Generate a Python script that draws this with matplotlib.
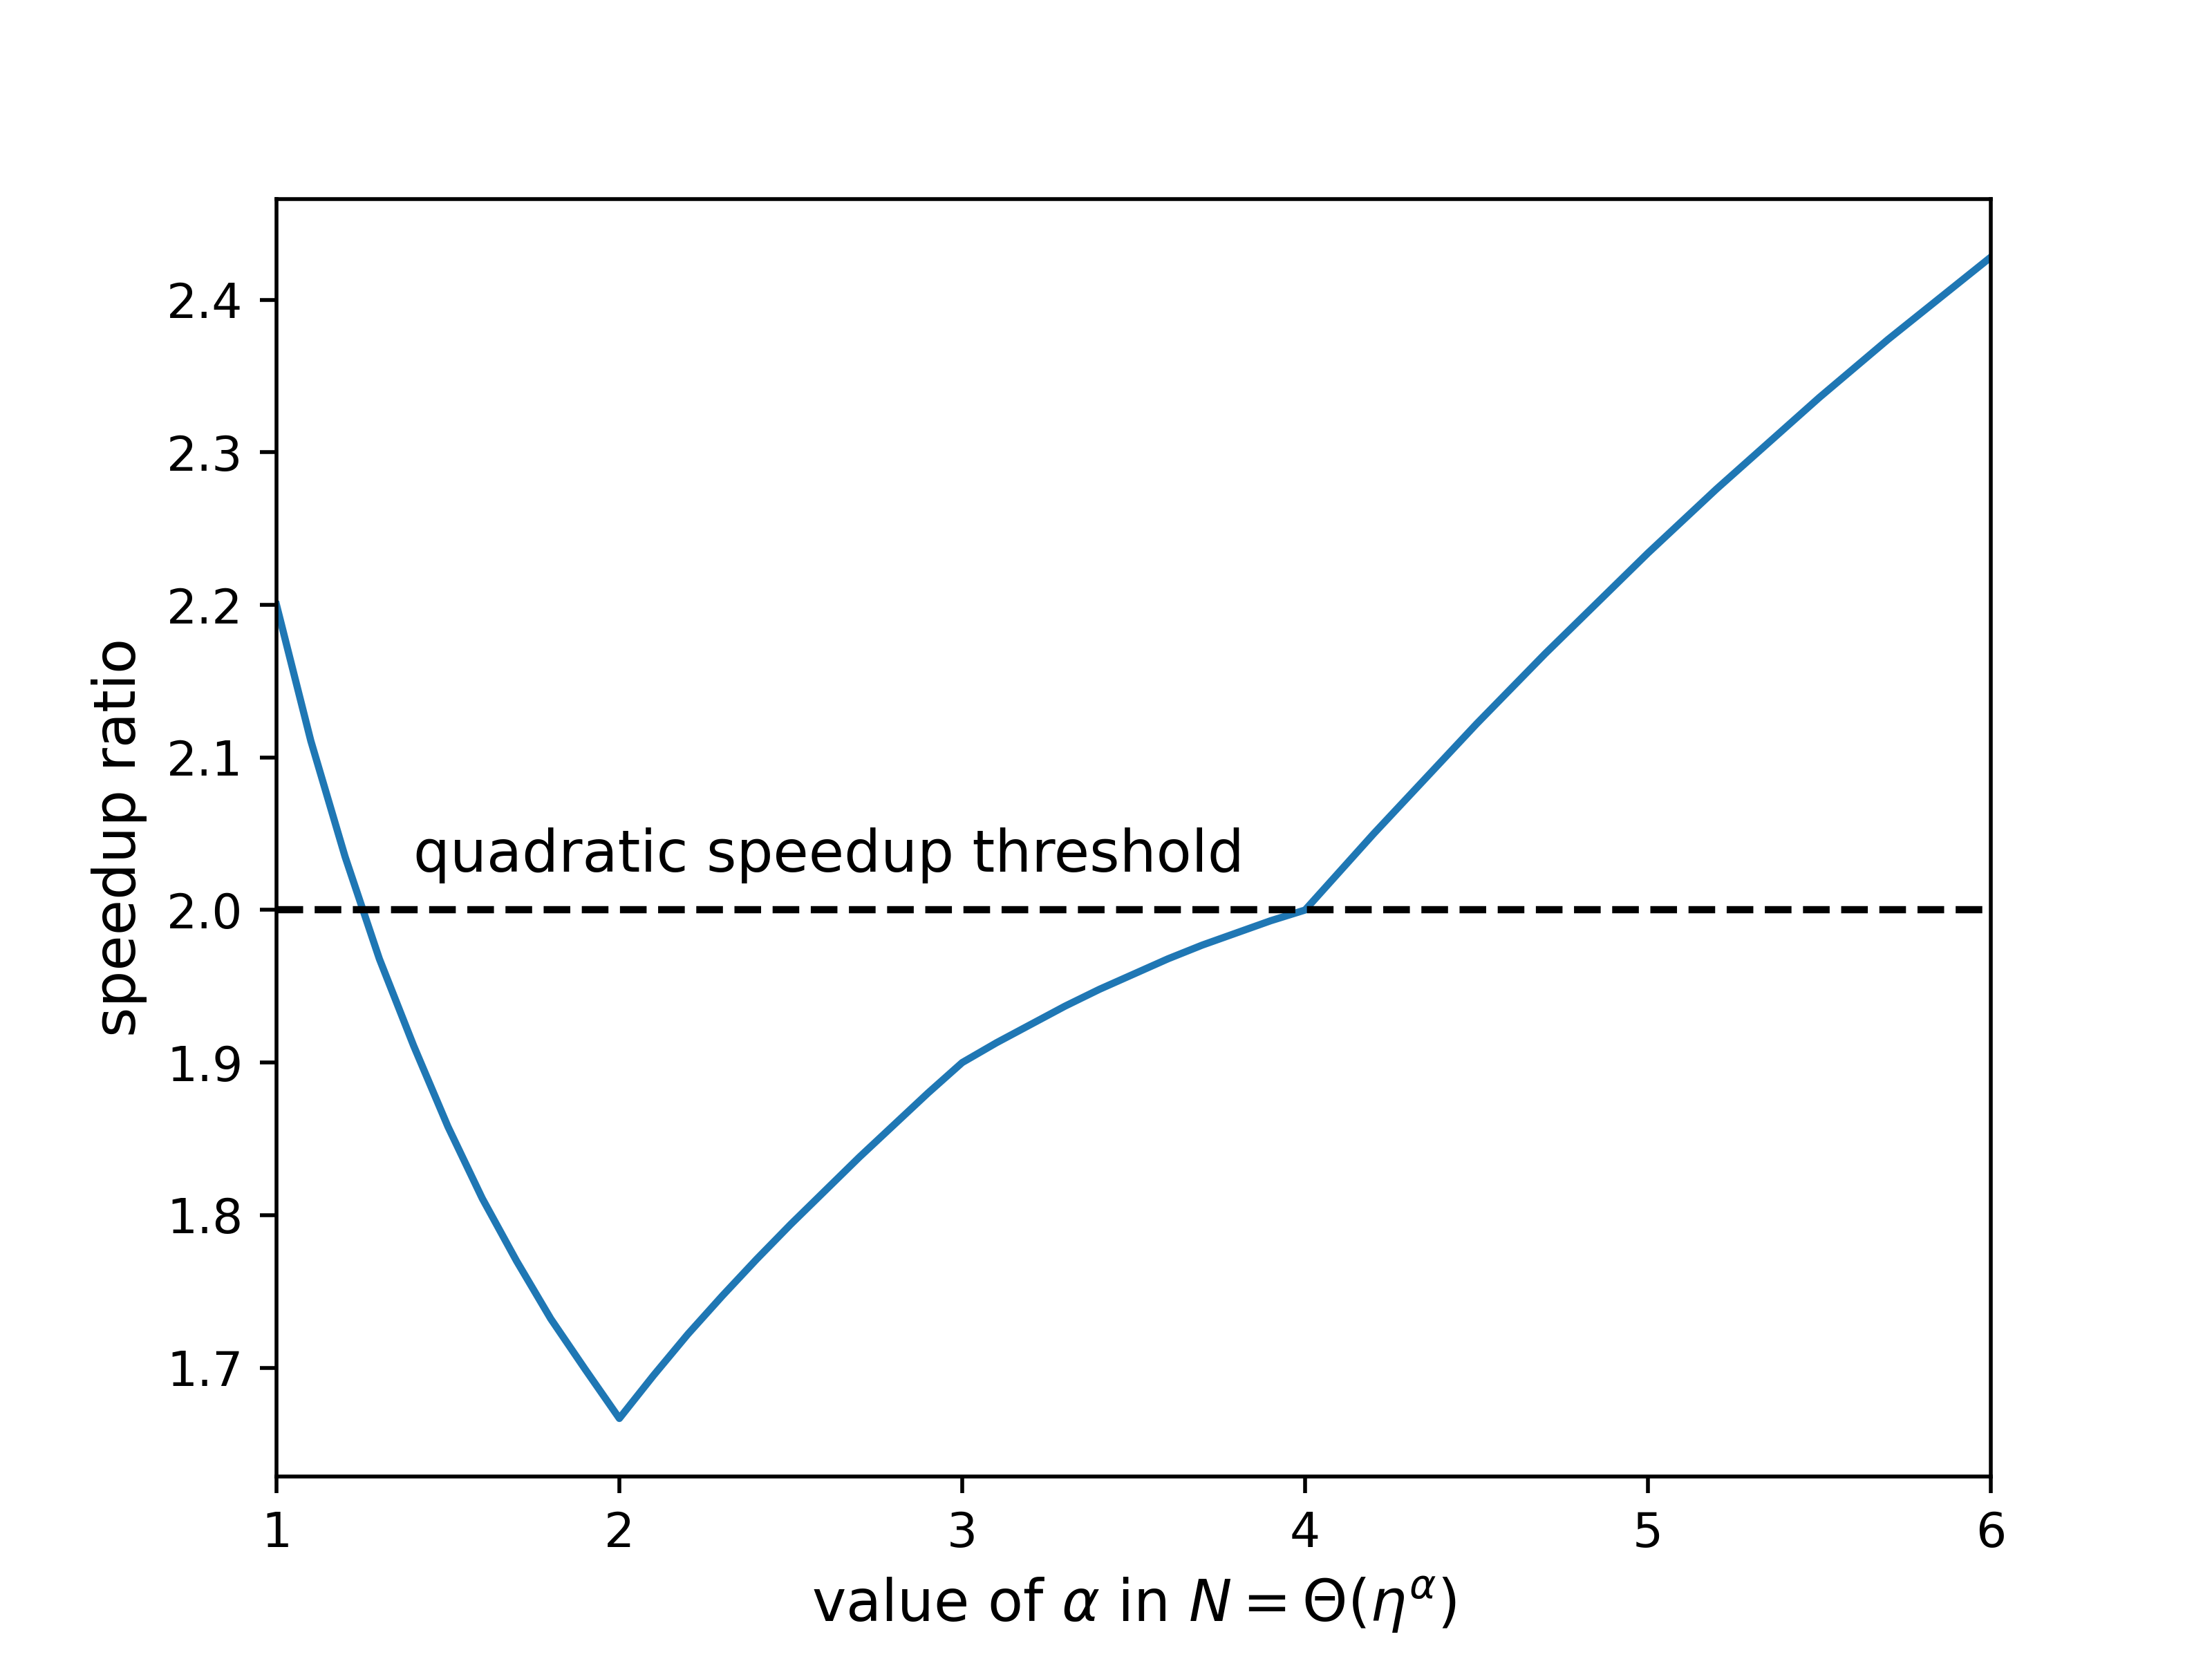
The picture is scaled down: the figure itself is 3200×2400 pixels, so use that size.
import matplotlib
matplotlib.use("Agg")
import matplotlib.pyplot as plt

# valeurs lues sur le graphe, pas de 0.1 en alpha
alpha = [1.0, 1.1, 1.2, 1.3, 1.4, 1.5, 1.6, 1.7, 1.8, 1.9,
         2.0, 2.1, 2.2, 2.3, 2.4, 2.5, 2.6, 2.7, 2.8, 2.9,
         3.0, 3.1, 3.2, 3.3, 3.4, 3.5, 3.6, 3.7, 3.8, 3.9,
         4.0, 4.1, 4.2, 4.3, 4.4, 4.5, 4.6, 4.7, 4.8, 4.9,
         5.0, 5.1, 5.2, 5.3, 5.4, 5.5, 5.6, 5.7, 5.8, 5.9, 6.0]
ratio = [2.200, 2.111, 2.035, 1.968, 1.911, 1.858, 1.811, 1.770, 1.732, 1.699,
         1.6667, 1.695, 1.722, 1.747, 1.771, 1.794, 1.816, 1.838, 1.859, 1.880,
         1.900, 1.913, 1.925, 1.937, 1.948, 1.958, 1.968, 1.977, 1.985, 1.993,
         2.000, 2.025, 2.050, 2.074, 2.098, 2.122, 2.145, 2.168, 2.190, 2.212,
         2.234, 2.255, 2.276, 2.296, 2.316, 2.336, 2.355, 2.374, 2.392, 2.410, 2.428]
threshold = 2.0

plt.figure(figsize=(6.4, 4.8))
plt.plot(alpha, ratio)
plt.axhline(threshold, color="black", linestyle="--")
plt.text(1.4, 2.025, "quadratic speedup threshold", fontsize=12)

plt.xlim(1, 6)
plt.xlabel(r"value of $\alpha$ in $N = \Theta(\eta^\alpha)$", fontsize=12)
plt.ylabel("speedup ratio", fontsize=12)

plt.savefig("out.png", dpi=500)
